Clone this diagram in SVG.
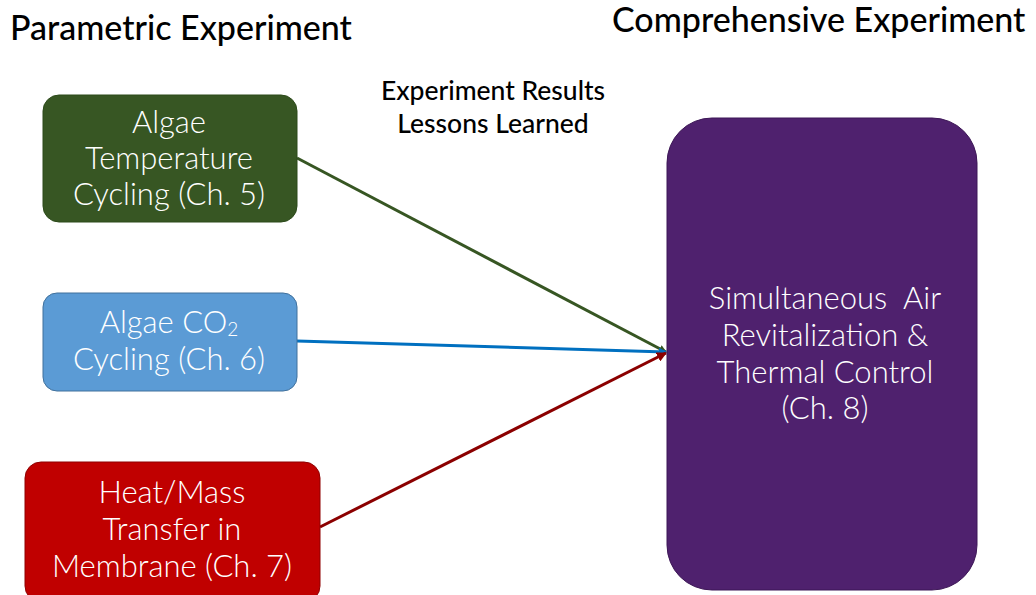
<svg xmlns="http://www.w3.org/2000/svg" width="1036" height="595" viewBox="0 0 1036 595">
<style>
.t{font-family:Lato,"Noto Sans",sans-serif;font-size:31px;fill:#fff;text-anchor:middle;font-weight:300}
.h{font-family:Lato,"Noto Sans",sans-serif;font-size:34px;fill:#000;font-weight:500}
.l{font-family:Lato,"Noto Sans",sans-serif;font-size:26.5px;fill:#000;font-weight:500;text-anchor:middle}
</style>
<defs>
<marker id="ag" markerWidth="8" markerHeight="8" refX="7" refY="4" orient="auto" markerUnits="userSpaceOnUse"><path d="M0,0 L8,4 L0,8 Z" fill="#375623"/></marker>
<marker id="ab" markerWidth="8" markerHeight="8" refX="7" refY="4" orient="auto" markerUnits="userSpaceOnUse"><path d="M0,0 L8,4 L0,8 Z" fill="#0070C0"/></marker>
<marker id="ar" markerWidth="10" markerHeight="10" refX="9" refY="5" orient="auto" markerUnits="userSpaceOnUse"><path d="M0,0 L10,5 L0,10 Z" fill="#8B0000"/></marker>
</defs>
<rect width="1036" height="595" fill="#fff"/>
<text class="h" x="10" y="40">Parametric Experiment</text>
<text class="h" x="612" y="32" font-size="33.5">Comprehensive Experiment</text>
<text class="l" x="493" y="100">Experiment Results</text>
<text class="l" x="493" y="133">Lessons Learned</text>
<g id="connectors" stroke-width="3" fill="none">
<line x1="297" y1="158" x2="666" y2="352" stroke="#375623" marker-end="url(#ag)"/>
<line x1="297" y1="341" x2="666" y2="352" stroke="#0070C0" marker-end="url(#ab)"/>
<line x1="320" y1="527" x2="666" y2="353" stroke="#8B0000" marker-end="url(#ar)"/>
</g>
<g id="n5">
<rect x="43" y="95" width="254" height="127" rx="16" fill="#375623" stroke="#2c4a1a"/>
<text class="t" x="169" y="133">Algae</text>
<text class="t" x="169" y="169">Temperature</text>
<text class="t" x="169" y="205">Cycling (Ch. 5)</text>
</g>
<g id="n6">
<rect x="43" y="293" width="254" height="98" rx="14" fill="#5B9BD5" stroke="#41719C"/>
<text class="t" x="169" y="333">Algae CO<tspan font-size="19" dy="3">2</tspan></text>
<text class="t" x="169" y="370">Cycling (Ch. 6)</text>
</g>
<g id="n7">
<rect x="25" y="462" width="295" height="140" rx="16" fill="#C00000" stroke="#8f0000"/>
<text class="t" x="172" y="503">Heat/Mass</text>
<text class="t" x="172" y="540">Transfer in</text>
<text class="t" x="172" y="577">Membrane (Ch. 7)</text>
</g>
<g id="n8">
<rect x="667" y="118" width="310" height="472" rx="45" fill="#4F216E" stroke="#3d1756"/>
<text class="t" x="825" y="309" xml:space="preserve">Simultaneous  Air</text>
<text class="t" x="825" y="346">Revitalization &amp;</text>
<text class="t" x="825" y="383">Thermal Control</text>
<text class="t" x="825" y="419">(Ch. 8)</text>
</g>
</svg>
